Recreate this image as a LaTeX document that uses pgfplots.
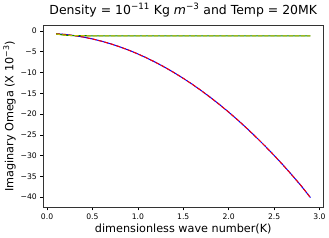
\documentclass[border=0pt]{standalone}
\usepackage{pgfplots}
\pgfplotsset{compat=1.18}
\usepackage{fontspec}
\setmainfont{DejaVu Sans}
\definecolor{mplgreen}{rgb}{0,0.5,0}
\definecolor{mplyellow}{rgb}{0.75,0.75,0}
\begin{document}
\begin{tikzpicture}[x=1pt,y=1pt]
\begin{axis}[
  width=274pt, height=178pt, scale only axis,
  xmin=-0.04, xmax=3.04, ymin=-42.45, ymax=1.3,
  xtick={0,0.5,1,1.5,2,2.5,3},
  xticklabels={0.0,0.5,1.0,1.5,2.0,2.5,3.0},
  ytick={0,-5,-10,-15,-20,-25,-30,-35,-40},
  yticklabels={0,−5,−10,−15,−20,−25,−30,−35,−40},
  tick label style={font=\fontsize{7.5}{8}\selectfont},
  tick align=outside, tick pos=left,
  major tick length=3pt,
  every tick/.style={black, line width=0.6pt},
  axis line style={line width=0.6pt, black!80},
  xlabel={dimensionless wave number(K)},
  ylabel={Imaginary Omega (X 10\textsuperscript{−3})},
  label style={font=\fontsize{11}{12}\selectfont},
  xlabel style={yshift=3pt},
  ylabel style={yshift=-2pt},
  title={Density = 10\textsuperscript{−11} Kg {\itshape m}\textsuperscript{−3} and Temp = 20MK},
  title style={font=\fontsize{12.2}{13}\selectfont, yshift=-1pt},
]
\addplot[blue, line width=1pt] coordinates {
(0.1,-0.65)(0.2,-0.83)(0.3,-1.10)(0.4,-1.46)(0.5,-1.91)(0.6,-2.45)(0.7,-3.08)(0.8,-3.80)(0.9,-4.61)(1.0,-5.52)
(1.1,-6.51)(1.2,-7.60)(1.3,-8.77)(1.4,-10.04)(1.5,-11.39)(1.6,-12.84)(1.7,-14.38)(1.8,-16.01)(1.9,-17.72)(2.0,-19.53)
(2.1,-21.43)(2.2,-23.43)(2.3,-25.51)(2.4,-27.68)(2.5,-29.94)(2.6,-32.30)(2.7,-34.76)(2.8,-37.32)(2.9,-40.10)};
\addplot[red, line width=1pt, dash pattern=on 4pt off 2pt] coordinates {
(0.1,-0.65)(0.2,-0.83)(0.3,-1.10)(0.4,-1.46)(0.5,-1.91)(0.6,-2.45)(0.7,-3.08)(0.8,-3.80)(0.9,-4.61)(1.0,-5.52)
(1.1,-6.51)(1.2,-7.60)(1.3,-8.77)(1.4,-10.04)(1.5,-11.39)(1.6,-12.84)(1.7,-14.38)(1.8,-16.01)(1.9,-17.72)(2.0,-19.53)
(2.1,-21.43)(2.2,-23.43)(2.3,-25.51)(2.4,-27.68)(2.5,-29.94)(2.6,-32.30)(2.7,-34.76)(2.8,-37.32)(2.9,-40.10)};
\addplot[mplgreen, line width=1pt] coordinates {
(0.1,-0.72)(0.2,-1.02)(0.3,-1.12)(0.5,-1.15)(1.0,-1.15)(1.5,-1.15)(2.0,-1.15)(2.5,-1.15)(2.9,-1.15)};
\addplot[mplyellow, line width=1pt, dash pattern=on 4pt off 2pt] coordinates {
(0.1,-0.72)(0.2,-1.02)(0.3,-1.12)(0.5,-1.15)(1.0,-1.15)(1.5,-1.15)(2.0,-1.15)(2.5,-1.15)(2.9,-1.15)};
\end{axis}
\end{tikzpicture}
\end{document}
